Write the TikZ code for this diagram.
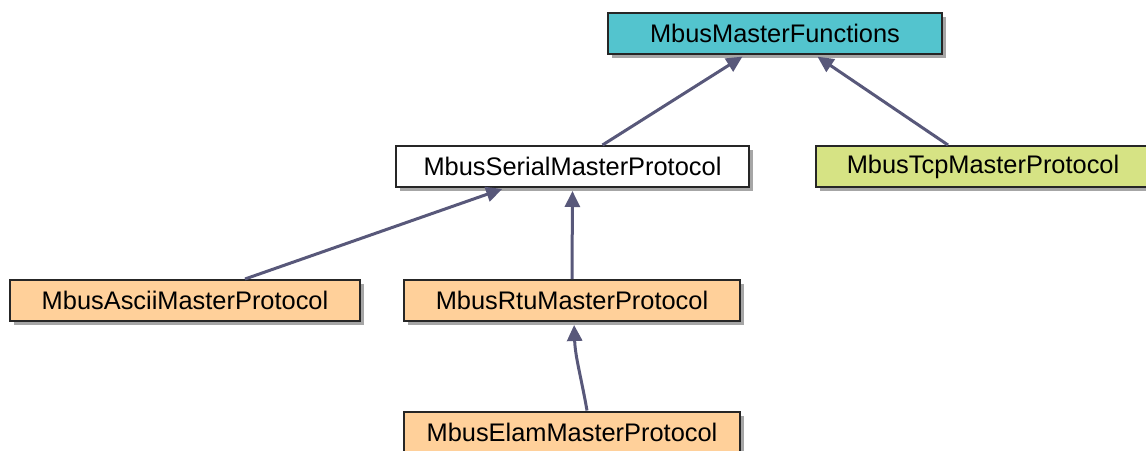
\documentclass[tikz,border=0pt]{standalone}
\usepackage{fontspec}
\setmainfont{Liberation Sans}
\usetikzlibrary{arrows.meta,shadows}
\definecolor{umlcyan}{RGB}{83,196,206}
\definecolor{umlpeach}{RGB}{255,208,154}
\definecolor{umlgreen}{RGB}{214,227,132}
\definecolor{umlarrow}{RGB}{88,88,122}

\begin{document}
\begin{tikzpicture}[x=0.5pt, y=-0.5pt,
    classbox/.style={draw=black!85, line width=1pt, minimum height=20.5pt,
        inner sep=0pt, font=\fontsize{12.7}{15}\selectfont,
        drop shadow={shadow xshift=2pt, shadow yshift=-2pt, fill=black, opacity=0.35}},
    inherit/.style={draw=umlarrow, line width=1.5pt, shorten >=1.5pt,
        -{Triangle[length=8pt, width=7.5pt]}}]
    \useasboundingbox (0,0) rectangle (1146,450);
    \clip (0,0) rectangle (1146,450);

    % base class
    \node[classbox, fill=umlcyan, minimum width=167pt] (master) at (775,33.5) {MbusMasterFunctions};

    % second level
    \node[classbox, fill=white, minimum width=176.5pt] (serial) at (572.5,166.5) {MbusSerialMasterProtocol};
    \node[classbox, fill=umlgreen, minimum width=167pt] (tcp) at (983,166.5) {MbusTcpMasterProtocol};

    % serial protocols
    \node[classbox, fill=umlpeach, minimum width=175pt] (ascii) at (185,300.5) {MbusAsciiMasterProtocol};
    \node[classbox, fill=umlpeach, minimum width=168pt] (rtu) at (572,300.5) {MbusRtuMasterProtocol};
    \node[classbox, fill=umlpeach, minimum width=168pt] (elam) at (572,432) {MbusElamMasterProtocol};

    % inheritance arrows
    \draw[inherit] ([xshift=15pt]serial.north) -- ([xshift=-15pt]master.south);
    \draw[inherit] ([xshift=-17.5pt]tcp.north) -- ([xshift=20pt]master.south);
    \draw[inherit] ([xshift=30pt]ascii.north) -- ([xshift=-33.75pt]serial.south);
    \draw[inherit] (rtu.north) -- (serial.south);
    \draw[inherit] ([xshift=7.5pt]elam.north) to[out=100, in=-88] ([xshift=1pt]rtu.south);
\end{tikzpicture}
\end{document}
